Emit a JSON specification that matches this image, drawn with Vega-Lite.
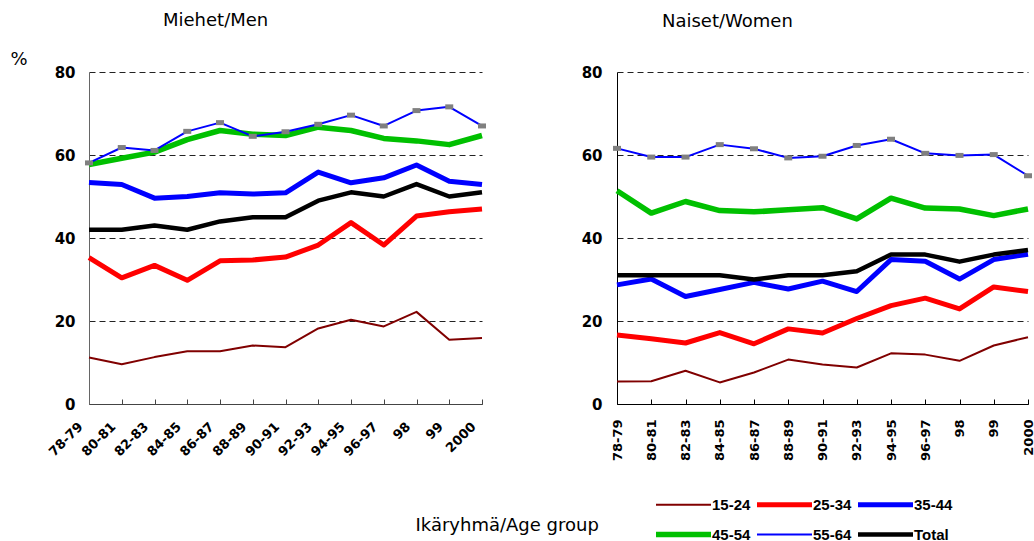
{
  "$schema": "https://vega.github.io/schema/vega-lite/v6.json",
  "padding": {"left": 10, "top": 12, "right": 0, "bottom": 0},
  "bounds": "flush",
  "spacing": 135,
  "config": {
    "view": {"stroke": null},
    "font": "DejaVu Sans",
    "axis": {"labelColor": "black", "titleColor": "black"}
  },
  "data": {"values": [
    {"sex":"Men","period":"78-79","group":"15-24","value":11.2},
    {"sex":"Men","period":"80-81","group":"15-24","value":9.6},
    {"sex":"Men","period":"82-83","group":"15-24","value":11.3},
    {"sex":"Men","period":"84-85","group":"15-24","value":12.7},
    {"sex":"Men","period":"86-87","group":"15-24","value":12.7},
    {"sex":"Men","period":"88-89","group":"15-24","value":14.1},
    {"sex":"Men","period":"90-91","group":"15-24","value":13.7},
    {"sex":"Men","period":"92-93","group":"15-24","value":18.2},
    {"sex":"Men","period":"94-95","group":"15-24","value":20.3},
    {"sex":"Men","period":"96-97","group":"15-24","value":18.7},
    {"sex":"Men","period":"98","group":"15-24","value":22.2},
    {"sex":"Men","period":"99","group":"15-24","value":15.5},
    {"sex":"Men","period":"2000","group":"15-24","value":15.9},
    {"sex":"Men","period":"78-79","group":"25-34","value":35.3},
    {"sex":"Men","period":"80-81","group":"25-34","value":30.4},
    {"sex":"Men","period":"82-83","group":"25-34","value":33.4},
    {"sex":"Men","period":"84-85","group":"25-34","value":29.8},
    {"sex":"Men","period":"86-87","group":"25-34","value":34.5},
    {"sex":"Men","period":"88-89","group":"25-34","value":34.7},
    {"sex":"Men","period":"90-91","group":"25-34","value":35.4},
    {"sex":"Men","period":"92-93","group":"25-34","value":38.3},
    {"sex":"Men","period":"94-95","group":"25-34","value":43.7},
    {"sex":"Men","period":"96-97","group":"25-34","value":38.3},
    {"sex":"Men","period":"98","group":"25-34","value":45.3},
    {"sex":"Men","period":"99","group":"25-34","value":46.3},
    {"sex":"Men","period":"2000","group":"25-34","value":47.0},
    {"sex":"Men","period":"78-79","group":"35-44","value":53.4},
    {"sex":"Men","period":"80-81","group":"35-44","value":52.9},
    {"sex":"Men","period":"82-83","group":"35-44","value":49.6},
    {"sex":"Men","period":"84-85","group":"35-44","value":50.0},
    {"sex":"Men","period":"86-87","group":"35-44","value":50.9},
    {"sex":"Men","period":"88-89","group":"35-44","value":50.6},
    {"sex":"Men","period":"90-91","group":"35-44","value":50.9},
    {"sex":"Men","period":"92-93","group":"35-44","value":55.9},
    {"sex":"Men","period":"94-95","group":"35-44","value":53.3},
    {"sex":"Men","period":"96-97","group":"35-44","value":54.5},
    {"sex":"Men","period":"98","group":"35-44","value":57.6},
    {"sex":"Men","period":"99","group":"35-44","value":53.7},
    {"sex":"Men","period":"2000","group":"35-44","value":52.9},
    {"sex":"Men","period":"78-79","group":"45-54","value":57.7},
    {"sex":"Men","period":"80-81","group":"45-54","value":59.2},
    {"sex":"Men","period":"82-83","group":"45-54","value":60.7},
    {"sex":"Men","period":"84-85","group":"45-54","value":63.7},
    {"sex":"Men","period":"86-87","group":"45-54","value":65.9},
    {"sex":"Men","period":"88-89","group":"45-54","value":65.0},
    {"sex":"Men","period":"90-91","group":"45-54","value":64.7},
    {"sex":"Men","period":"92-93","group":"45-54","value":66.7},
    {"sex":"Men","period":"94-95","group":"45-54","value":65.9},
    {"sex":"Men","period":"96-97","group":"45-54","value":64.0},
    {"sex":"Men","period":"98","group":"45-54","value":63.4},
    {"sex":"Men","period":"99","group":"45-54","value":62.5},
    {"sex":"Men","period":"2000","group":"45-54","value":64.7},
    {"sex":"Men","period":"78-79","group":"55-64","value":58.1},
    {"sex":"Men","period":"80-81","group":"55-64","value":61.8},
    {"sex":"Men","period":"82-83","group":"55-64","value":61.1},
    {"sex":"Men","period":"84-85","group":"55-64","value":65.7},
    {"sex":"Men","period":"86-87","group":"55-64","value":67.8},
    {"sex":"Men","period":"88-89","group":"55-64","value":64.5},
    {"sex":"Men","period":"90-91","group":"55-64","value":65.6},
    {"sex":"Men","period":"92-93","group":"55-64","value":67.4},
    {"sex":"Men","period":"94-95","group":"55-64","value":69.6},
    {"sex":"Men","period":"96-97","group":"55-64","value":67.0},
    {"sex":"Men","period":"98","group":"55-64","value":70.7},
    {"sex":"Men","period":"99","group":"55-64","value":71.6},
    {"sex":"Men","period":"2000","group":"55-64","value":67.0},
    {"sex":"Men","period":"78-79","group":"Total","value":42},
    {"sex":"Men","period":"80-81","group":"Total","value":42},
    {"sex":"Men","period":"82-83","group":"Total","value":43},
    {"sex":"Men","period":"84-85","group":"Total","value":42},
    {"sex":"Men","period":"86-87","group":"Total","value":44},
    {"sex":"Men","period":"88-89","group":"Total","value":45},
    {"sex":"Men","period":"90-91","group":"Total","value":45},
    {"sex":"Men","period":"92-93","group":"Total","value":49},
    {"sex":"Men","period":"94-95","group":"Total","value":51},
    {"sex":"Men","period":"96-97","group":"Total","value":50},
    {"sex":"Men","period":"98","group":"Total","value":53},
    {"sex":"Men","period":"99","group":"Total","value":50},
    {"sex":"Men","period":"2000","group":"Total","value":51},
    {"sex":"Women","period":"78-79","group":"15-24","value":5.4},
    {"sex":"Women","period":"80-81","group":"15-24","value":5.5},
    {"sex":"Women","period":"82-83","group":"15-24","value":8.0},
    {"sex":"Women","period":"84-85","group":"15-24","value":5.2},
    {"sex":"Women","period":"86-87","group":"15-24","value":7.6},
    {"sex":"Women","period":"88-89","group":"15-24","value":10.7},
    {"sex":"Women","period":"90-91","group":"15-24","value":9.5},
    {"sex":"Women","period":"92-93","group":"15-24","value":8.8},
    {"sex":"Women","period":"94-95","group":"15-24","value":12.2},
    {"sex":"Women","period":"96-97","group":"15-24","value":11.9},
    {"sex":"Women","period":"98","group":"15-24","value":10.4},
    {"sex":"Women","period":"99","group":"15-24","value":14.1},
    {"sex":"Women","period":"2000","group":"15-24","value":16.1},
    {"sex":"Women","period":"78-79","group":"25-34","value":16.6},
    {"sex":"Women","period":"80-81","group":"25-34","value":15.7},
    {"sex":"Women","period":"82-83","group":"25-34","value":14.7},
    {"sex":"Women","period":"84-85","group":"25-34","value":17.2},
    {"sex":"Women","period":"86-87","group":"25-34","value":14.5},
    {"sex":"Women","period":"88-89","group":"25-34","value":18.1},
    {"sex":"Women","period":"90-91","group":"25-34","value":17.1},
    {"sex":"Women","period":"92-93","group":"25-34","value":20.6},
    {"sex":"Women","period":"94-95","group":"25-34","value":23.7},
    {"sex":"Women","period":"96-97","group":"25-34","value":25.5},
    {"sex":"Women","period":"98","group":"25-34","value":22.9},
    {"sex":"Women","period":"99","group":"25-34","value":28.2},
    {"sex":"Women","period":"2000","group":"25-34","value":27.1},
    {"sex":"Women","period":"78-79","group":"35-44","value":28.7},
    {"sex":"Women","period":"80-81","group":"35-44","value":30.1},
    {"sex":"Women","period":"82-83","group":"35-44","value":25.9},
    {"sex":"Women","period":"84-85","group":"35-44","value":27.6},
    {"sex":"Women","period":"86-87","group":"35-44","value":29.3},
    {"sex":"Women","period":"88-89","group":"35-44","value":27.7},
    {"sex":"Women","period":"90-91","group":"35-44","value":29.6},
    {"sex":"Women","period":"92-93","group":"35-44","value":27.1},
    {"sex":"Women","period":"94-95","group":"35-44","value":34.8},
    {"sex":"Women","period":"96-97","group":"35-44","value":34.4},
    {"sex":"Women","period":"98","group":"35-44","value":30.1},
    {"sex":"Women","period":"99","group":"35-44","value":34.8},
    {"sex":"Women","period":"2000","group":"35-44","value":36.1},
    {"sex":"Women","period":"78-79","group":"45-54","value":51.4},
    {"sex":"Women","period":"80-81","group":"45-54","value":46.0},
    {"sex":"Women","period":"82-83","group":"45-54","value":48.8},
    {"sex":"Women","period":"84-85","group":"45-54","value":46.6},
    {"sex":"Women","period":"86-87","group":"45-54","value":46.3},
    {"sex":"Women","period":"88-89","group":"45-54","value":46.8},
    {"sex":"Women","period":"90-91","group":"45-54","value":47.3},
    {"sex":"Women","period":"92-93","group":"45-54","value":44.6},
    {"sex":"Women","period":"94-95","group":"45-54","value":49.6},
    {"sex":"Women","period":"96-97","group":"45-54","value":47.2},
    {"sex":"Women","period":"98","group":"45-54","value":47.0},
    {"sex":"Women","period":"99","group":"45-54","value":45.4},
    {"sex":"Women","period":"2000","group":"45-54","value":47.0},
    {"sex":"Women","period":"78-79","group":"55-64","value":61.6},
    {"sex":"Women","period":"80-81","group":"55-64","value":59.5},
    {"sex":"Women","period":"82-83","group":"55-64","value":59.5},
    {"sex":"Women","period":"84-85","group":"55-64","value":62.5},
    {"sex":"Women","period":"86-87","group":"55-64","value":61.5},
    {"sex":"Women","period":"88-89","group":"55-64","value":59.3},
    {"sex":"Women","period":"90-91","group":"55-64","value":59.7},
    {"sex":"Women","period":"92-93","group":"55-64","value":62.3},
    {"sex":"Women","period":"94-95","group":"55-64","value":63.8},
    {"sex":"Women","period":"96-97","group":"55-64","value":60.4},
    {"sex":"Women","period":"98","group":"55-64","value":59.9},
    {"sex":"Women","period":"99","group":"55-64","value":60.1},
    {"sex":"Women","period":"2000","group":"55-64","value":55.0},
    {"sex":"Women","period":"78-79","group":"Total","value":31},
    {"sex":"Women","period":"80-81","group":"Total","value":31},
    {"sex":"Women","period":"82-83","group":"Total","value":31},
    {"sex":"Women","period":"84-85","group":"Total","value":31},
    {"sex":"Women","period":"86-87","group":"Total","value":30},
    {"sex":"Women","period":"88-89","group":"Total","value":31},
    {"sex":"Women","period":"90-91","group":"Total","value":31},
    {"sex":"Women","period":"92-93","group":"Total","value":32},
    {"sex":"Women","period":"94-95","group":"Total","value":36},
    {"sex":"Women","period":"96-97","group":"Total","value":36},
    {"sex":"Women","period":"98","group":"Total","value":34.3},
    {"sex":"Women","period":"99","group":"Total","value":36},
    {"sex":"Women","period":"2000","group":"Total","value":37.1}
  ]},
  "hconcat": [
    {
      "width": 393,
      "height": 332,
      "title": {"text": "Miehet/Men", "anchor": "start", "frame": "group", "dx": 74, "font": "DejaVu Sans", "fontSize": 18, "fontWeight": "normal", "baseline": "alphabetic", "offset": 6, "color": "black"},
      "transform": [{"filter": "datum.sex === 'Men'"}],
      "encoding": {
        "x": {"field": "period", "type": "nominal", "sort": null, "scale": {"type": "point", "padding": 0},
          "axis": {"title": null, "labelAngle": -45, "labelAlign": "right", "labelBaseline": "top", "labelFont": "DejaVu Sans", "labelFontSize": 13, "labelFontWeight": "bold", "labelPadding": 21, "labelOffset": -13, "tickSize": -5, "tickColor": "#444", "domainColor": "#444", "grid": false}},
        "y": {"field": "value", "type": "quantitative", "scale": {"domain": [0, 80], "nice": false},
          "axis": {"values": [0, 20, 40, 60, 80], "title": "%", "titleAngle": 0, "titleAlign": "left", "titleBaseline": "alphabetic", "titleX": -79, "titleY": -8, "titleFont": "DejaVu Sans", "titleFontSize": 18, "titleFontWeight": "normal", "labelFont": "DejaVu Sans", "labelFontSize": 15, "labelFontWeight": "bold", "labelPadding": 14, "ticks": false, "domainColor": "#666", "grid": true, "gridDash": [6, 4], "gridColor": "#222", "gridWidth": 1}}
      },
      "layer": [
        {"mark": {"type": "line", "strokeJoin": "round"},
          "encoding": {
            "color": {"field": "group", "type": "nominal", "scale": {"domain": ["15-24", "25-34", "35-44", "45-54", "55-64", "Total"], "range": ["#800000", "#FF0000", "#0000FF", "#00C000", "#0000FF", "#000000"]}, "legend": {"title": null}},
            "strokeWidth": {"field": "group", "type": "nominal", "scale": {"type": "ordinal", "domain": ["15-24", "25-34", "35-44", "45-54", "55-64", "Total"], "range": [2, 5, 5, 5.5, 2, 4.5]}, "legend": {"title": null}}
          }},
        {"transform": [{"filter": "datum.group === '55-64'"}],
          "mark": {"type": "tick", "color": "#808080", "size": 8, "thickness": 5, "opacity": 1}}
      ]
    },
    {
      "width": 411,
      "height": 332,
      "title": {"text": "Naiset/Women", "anchor": "start", "frame": "group", "dx": 45, "font": "DejaVu Sans", "fontSize": 18, "fontWeight": "normal", "baseline": "alphabetic", "offset": 20, "color": "black"},
      "transform": [{"filter": "datum.sex === 'Women'"}],
      "encoding": {
        "x": {"field": "period", "type": "nominal", "sort": null, "scale": {"type": "point", "padding": 0},
          "axis": {"title": "Ikäryhmä/Age group", "titleX": -202, "titleY": 126, "titleAlign": "left", "titleBaseline": "alphabetic", "titleFont": "DejaVu Sans", "titleFontSize": 18, "titleFontWeight": "normal", "labelAngle": -90, "labelAlign": "right", "labelBaseline": "middle", "labelFont": "DejaVu Sans", "labelFontSize": 13, "labelFontWeight": "bold", "labelPadding": 20, "tickSize": -5, "tickColor": "black", "domainColor": "black", "grid": false}},
        "y": {"field": "value", "type": "quantitative", "scale": {"domain": [0, 80], "nice": false},
          "axis": {"values": [0, 20, 40, 60, 80], "title": null, "labelFont": "DejaVu Sans", "labelFontSize": 15, "labelFontWeight": "bold", "labelPadding": 15, "ticks": false, "domainColor": "black", "grid": true, "gridDash": [6, 4], "gridColor": "#222", "gridWidth": 1}}
      },
      "layer": [
        {"mark": {"type": "line", "strokeJoin": "round"},
          "encoding": {
            "color": {"field": "group", "type": "nominal", "scale": {"domain": ["15-24", "25-34", "35-44", "45-54", "55-64", "Total"], "range": ["#800000", "#FF0000", "#0000FF", "#00C000", "#0000FF", "#000000"]},
              "legend": {"title": null, "orient": "none", "legendX": 564, "legendY": 425, "direction": "horizontal", "columns": 3, "symbolType": "stroke", "symbolSize": 3025, "clipHeight": 15, "rowPadding": 14, "columnPadding": 3, "labelOffset": -2, "labelFont": "Liberation Sans", "labelFontSize": 15, "labelFontWeight": "bold", "labelColor": "black", "padding": 0, "symbolOpacity": 1}},
            "strokeWidth": {"field": "group", "type": "nominal", "scale": {"type": "ordinal", "domain": ["15-24", "25-34", "35-44", "45-54", "55-64", "Total"], "range": [2, 5, 5, 5.5, 2, 4.5]}, "legend": {"title": null}}
          }},
        {"transform": [{"filter": "datum.group === '55-64'"}],
          "mark": {"type": "tick", "color": "#808080", "size": 8, "thickness": 5, "opacity": 1}}
      ]
    }
  ]
}
